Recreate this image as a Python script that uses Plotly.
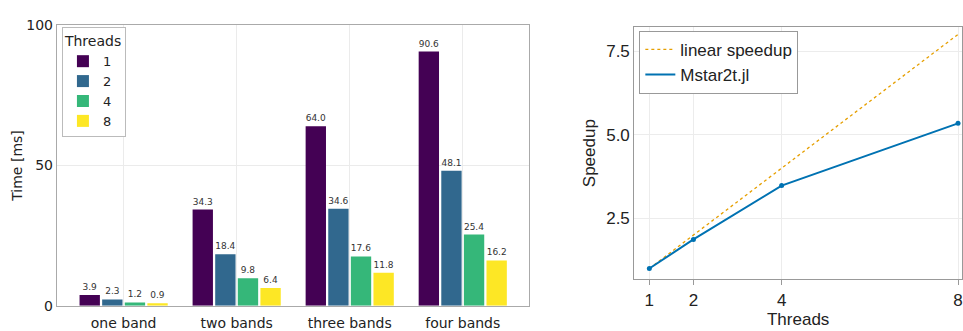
import plotly.graph_objects as go

categories = ["one band", "two bands", "three bands", "four bands"]
threads = [1, 2, 4, 8]
times_1 = [3.9, 34.3, 64.0, 90.6]
times_2 = [2.3, 18.4, 34.6, 48.1]
times_4 = [1.2, 9.8, 17.6, 25.4]
times_8 = [0.9, 6.4, 11.8, 16.2]
bar_colors = ["#440154", "#31688e", "#35b779", "#fde725"]

linear_speedup = [1, 2, 4, 8]
mstar_speedup = [1.0, 1.87, 3.48, 5.34]

W, H = 963, 331
def px(x): return x / W
def py(y): return 1 - y / H

fig = go.Figure()
for name, vals, col in zip(["1", "2", "4", "8"], [times_1, times_2, times_4, times_8], bar_colors):
    fig.add_trace(go.Bar(
        x=categories, y=vals, name=name, marker=dict(color=col, line=dict(width=0)),
        text=[f"{v:.1f}" for v in vals], textposition="outside", cliponaxis=False,
        textfont=dict(size=9, color="#333333", family="DejaVu Sans"),
        xaxis="x", yaxis="y", legend="legend",
    ))

blue = "rgb(0,114,178)"
fig.add_trace(go.Scatter(
    x=threads, y=linear_speedup, mode="lines", name="linear speedup",
    line=dict(color="rgb(230,159,0)", dash="dot", width=1.3),
    xaxis="x2", yaxis="y2", legend="legend2",
))
fig.add_trace(go.Scatter(
    x=threads, y=mstar_speedup, mode="lines", name="Mstar2t.jl",
    line=dict(color=blue, width=2),
    xaxis="x2", yaxis="y2", legend="legend2",
))
fig.add_trace(go.Scatter(
    x=threads, y=mstar_speedup, mode="markers", name="Mstar2t.jl",
    marker=dict(size=5, color=blue), showlegend=False,
    xaxis="x2", yaxis="y2",
))

left_font = dict(family="DejaVu Sans", size=14, color="#222")
leg_font = dict(family="DejaVu Sans", size=13, color="#222")
right_font = dict(family="Liberation Sans, Arial", size=17, color="#222")
leg2_font = dict(family="Liberation Sans, Arial", size=17, color="#222")

fig.update_layout(
    width=W, height=H, margin=dict(l=0, r=0, t=0, b=0),
    paper_bgcolor="white", plot_bgcolor="white",
    barmode="group", bargap=0.2, bargroupgap=0.1,
    xaxis=dict(domain=[px(57), px(530)], anchor="y", range=[-0.59, 3.59],
               showgrid=True, gridcolor="#ebebeb", showline=True, mirror=True,
               linecolor="#aaaaaa", linewidth=1.2, ticks="", tickfont=left_font, zeroline=False,
               ticklabelstandoff=4),
    yaxis=dict(domain=[py(313), py(18)], anchor="x", range=[0, 100], tickvals=[0, 50, 100],
               showgrid=True, gridcolor="#ebebeb", showline=True, mirror=True,
               linecolor="#aaaaaa", linewidth=1.2, ticks="", tickfont=left_font, zeroline=False,
               title=dict(text="Time [ms]", font=left_font, standoff=0)),
    xaxis2=dict(domain=[px(635), 1.0], anchor="y2", range=[0.66, 8.09], tickvals=threads,
                showgrid=True, gridcolor="#ececec", showline=True, mirror=True,
                linecolor="#999999", linewidth=1.2, ticks="outside", ticklen=5, tickcolor="#999",
                tickfont=right_font, zeroline=False,
                title=dict(text="Threads", font=right_font, standoff=2)),
    yaxis2=dict(domain=[py(285), py(20)], anchor="x2", range=[0.68, 8.22], tickvals=[2.5, 5.0, 7.5],
                ticktext=["2.5", "5.0", "7.5"],
                showgrid=True, gridcolor="#ececec", showline=True, mirror=True,
                linecolor="#999999", linewidth=1.2, ticks="", tickfont=right_font, zeroline=False,
                title=dict(text="Speedup", font=right_font, standoff=6)),
    legend=dict(x=px(62), y=py(20), xanchor="left", yanchor="top",
                title=dict(text="Threads", font=left_font), font=leg_font,
                bordercolor="#bbbbbb", borderwidth=1, bgcolor="white",
                itemwidth=30, tracegroupgap=0),
    legend2=dict(x=px(640), y=py(24), xanchor="left", yanchor="top", font=leg2_font,
                 bordercolor="#999999", borderwidth=1, bgcolor="white", itemwidth=30),
    showlegend=True,
)

fig.write_html("out.html")
